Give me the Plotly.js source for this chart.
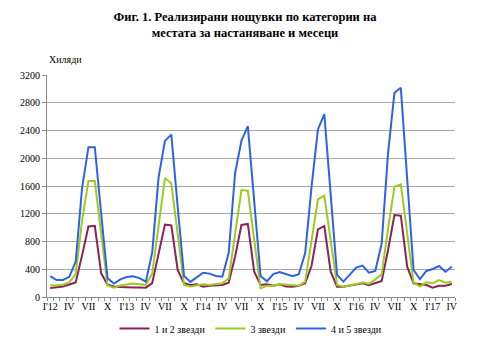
<!DOCTYPE html>
<html>
<head>
<meta charset="utf-8">
<script src="https://cdn.plot.ly/plotly-3.0.1.min.js"></script>
<style>html,body{margin:0;padding:0;background:#fff;}#chart{width:500px;height:360px;}</style>
</head>
<body>
<div id="chart"></div>
<script>
// Months Jan 2012 - Apr 2017 (64 months)
const monthLabels = ["I'12","II","III","IV","V","VI","VII","VIII","IX","X","XI","XII",
  "I'13","II","III","IV","V","VI","VII","VIII","IX","X","XI","XII",
  "I'14","II","III","IV","V","VI","VII","VIII","IX","X","XI","XII",
  "I'15","II","III","IV","V","VI","VII","VIII","IX","X","XI","XII",
  "I'16","II","III","IV","V","VI","VII","VIII","IX","X","XI","XII",
  "I'17","II","III","IV"];

const stars12 = [130,139,150,181,210,600,1017,1027,341,177,153,143,
  137,137,137,135,200,629,1045,1032,389,197,173,182,
  149,163,173,173,207,581,1038,1053,365,173,182,163,
  182,150,149,163,197,450,975,1023,365,149,149,163,
  173,197,170,197,231,677,1182,1172,437,197,182,173,
  134,163,163,187];

const stars3 = [170,167,177,210,330,1100,1672,1672,910,167,135,167,
  180,195,185,175,335,1060,1715,1640,880,173,150,163,
  182,173,182,197,269,918,1542,1533,830,125,163,158,
  187,178,173,163,221,820,1407,1460,817,173,149,173,
  187,207,190,254,327,987,1590,1623,918,211,149,211,
  197,245,206,221];

const stars45 = [300,245,245,290,510,1570,2160,2160,1200,270,195,255,
  287,300,272,220,640,1720,2250,2340,1300,304,218,281,
  349,337,304,293,634,1782,2253,2464,1400,304,227,329,
  361,335,299,327,634,1590,2415,2637,1480,318,222,318,
  423,452,351,375,773,2075,2944,3016,1700,389,259,375,
  404,447,365,437];

const seriesNames = ["1 и 2 звезди","3 звезди","4 и 5 звезди"];
const yTicks = [0,400,800,1200,1600,2000,2400,2800,3200];

const idx = monthLabels.map((_, i) => i);
const shownTicks = idx.filter(i => i % 3 === 0);
const boundaries = [];
for (let i = 0; i <= monthLabels.length; i++) boundaries.push(i - 0.5);

const colors = ["#8C2258","#9CCB1E","#2E62E4"];
const data = [stars12, stars3, stars45].map((vals, k) => ({
  x: idx, y: vals, type: 'scatter', mode: 'lines', name: seriesNames[k],
  line: {color: colors[k], width: 2}
}));

const layout = {
  width: 500, height: 360,
  margin: {l: 47, r: 45, t: 75, b: 63},
  paper_bgcolor: '#fff', plot_bgcolor: '#fff',
  font: {family: '"Liberation Serif", "Times New Roman", serif', size: 10, color: '#000'},
  title: {text: '<b>Фиг. 1. Реализирани нощувки по категории на<br>местата за настаняване и месеци</b>',
    x: 0.49, xanchor: 'center', y: 0.943, yanchor: 'top',
    font: {family: '"Liberation Serif", "Times New Roman", serif', size: 12.5, color: '#000'}},
  showlegend: true,
  legend: {orientation: 'h', x: 0.5, xanchor: 'center', y: -0.077, yanchor: 'top',
    font: {size: 10}, itemwidth: 30, tracegroupgap: 0},
  xaxis: {
    range: [-0.5, monthLabels.length - 0.5],
    tickmode: 'array', tickvals: shownTicks, ticktext: shownTicks.map(i => monthLabels[i]),
    ticks: '', showgrid: false, zeroline: false,
    showline: true, linecolor: '#8c8c8c', linewidth: 1,
    tickfont: {size: 10},
    minor: {tickmode: 'array', tickvals: boundaries, ticks: 'outside', ticklen: 3, tickcolor: '#8c8c8c', showgrid: false}
  },
  yaxis: {
    range: [0, 3200], tickmode: 'array', tickvals: yTicks,
    ticks: 'outside', ticklen: 4, tickcolor: '#8c8c8c',
    showgrid: true, gridcolor: '#a8a8a8', gridwidth: 1,
    showline: true, linecolor: '#8c8c8c', zeroline: false,
    tickfont: {size: 10}
  },
  annotations: [{
    text: 'Хиляди', xref: 'paper', yref: 'paper', x: 0.0, y: 1.035,
    xanchor: 'left', yanchor: 'bottom', showarrow: false,
    font: {size: 10}
  }]
};

Plotly.newPlot('chart', data, layout, {displayModeBar: false, staticPlot: true});
</script>
</body>
</html>
